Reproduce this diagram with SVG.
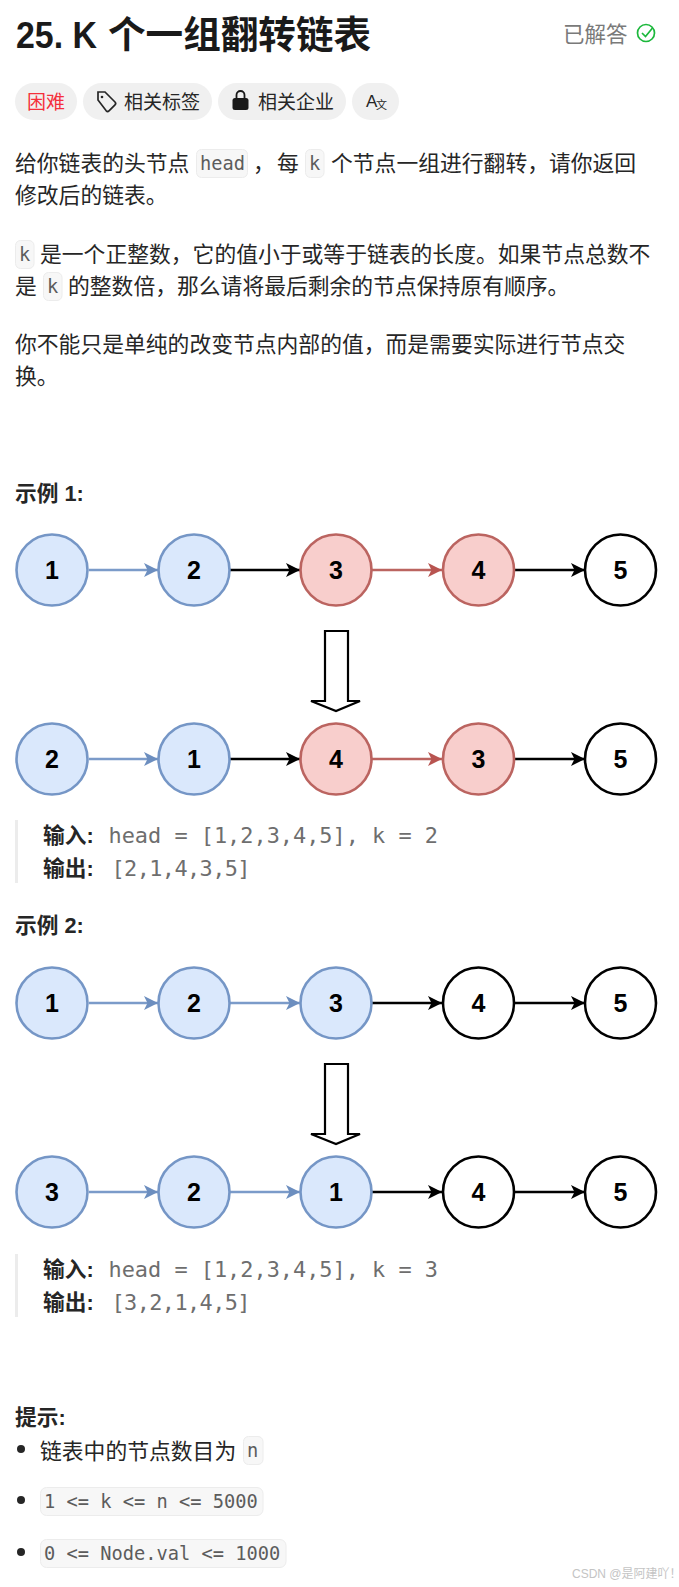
<svg xmlns="http://www.w3.org/2000/svg" width="679" height="1587" viewBox="0 0 679 1587">
<style>
text{font-family:"Liberation Sans","Noto Sans CJK SC",sans-serif;fill:#262626}
.b{font-size:21.8px}
.h{font-size:21.7px;font-weight:700}
.t{font-size:19px}
.m{font-family:"DejaVu Sans Mono",monospace;fill:#5c5c5c;font-size:18.7px}
.mq{font-family:"DejaVu Sans Mono",monospace;fill:#6e6e6e;font-size:21.9px}
.cbox{fill:#f7f7f7;stroke:#ececec;stroke-width:1}
.pill{fill:#f0f0f0}
.n{font-family:"Liberation Sans",sans-serif;font-size:25px;font-weight:700;fill:#000;text-anchor:middle}
.blue{fill:#dae8fc;stroke:#7596c6;stroke-width:2.6}
.red{fill:#f8cecc;stroke:#bb6460;stroke-width:2.6}
.wh{fill:#fff;stroke:#000;stroke-width:2.6}
.lb{stroke:#7b9bc9;stroke-width:2.4;fill:none;marker-end:url(#ab)}
.lr{stroke:#bb6460;stroke-width:2.4;fill:none;marker-end:url(#ar)}
.lk{stroke:#000;stroke-width:2.4;fill:none;marker-end:url(#ak)}
.big{fill:#fff;stroke:#000;stroke-width:2.2}
.q{fill:#ececec}
</style>
<defs>
<marker id="ab" markerUnits="userSpaceOnUse" markerWidth="16" markerHeight="14" refX="14" refY="7" orient="auto"><path d="M0 0L14 7L0 14L3.500 7Z" fill="#6c8ebf"/></marker>
<marker id="ar" markerUnits="userSpaceOnUse" markerWidth="16" markerHeight="14" refX="14" refY="7" orient="auto"><path d="M0 0L14 7L0 14L3.500 7Z" fill="#b85450"/></marker>
<marker id="ak" markerUnits="userSpaceOnUse" markerWidth="16" markerHeight="14" refX="14" refY="7" orient="auto"><path d="M0 0L14 7L0 14L3.500 7Z" fill="#000"/></marker>
</defs>
<rect width="679" height="1587" fill="#fff"/>
<g id="header">
<text x="16" y="48" style="font-size:37px;font-weight:700;fill:#1a1a1a" textLength="81" lengthAdjust="spacingAndGlyphs">25. K</text>
<text x="108" y="48" style="font-size:37.6px;font-weight:700;fill:#1a1a1a">个一组翻转链表</text>
<text x="563" y="42" style="font-size:21.5px;fill:#7a7a7a">已解答</text>
<circle cx="646" cy="33" r="8.500" fill="none" stroke="#1cb83c" stroke-width="1.700"/>
<path d="M642 33l3.500 3.500l7-8.500" fill="none" stroke="#1cb83c" stroke-width="1.700"/>
</g>
<g id="tags">
<rect class="pill" x="15" y="83" width="62" height="37" rx="18.500"/>
<text class="t" x="27" y="109" style="fill:#f5303c">困难</text>
<rect class="pill" x="83" y="83" width="129" height="37" rx="18.500"/>
<path d="M98 92h7l10 10a2 2 0 0 1 0 2.800l-6 6a2 2 0 0 1-2.800 0l-8.200-10.800z" fill="none" stroke="#262626" stroke-width="1.700"/>
<circle cx="102" cy="97" r="1.300" fill="#262626"/>
<text class="t" x="124" y="109">相关标签</text>
<rect class="pill" x="218" y="83" width="128" height="37" rx="18.500"/>
<path d="M236.500 99v-4a4 4 0 0 1 8 0v4" fill="none" stroke="#1a1a1a" stroke-width="1.800"/>
<rect x="232.500" y="98" width="16" height="12" rx="2.500" fill="#1a1a1a"/>
<text class="t" x="258" y="109">相关企业</text>
<rect class="pill" x="352" y="83" width="47" height="37" rx="18.500"/>
<text x="366" y="107" style="font-size:17px">A</text>
<text x="376" y="109" style="font-size:11px">文</text>
</g>
<g id="desc">
<text class="b" x="15" y="171">给你链表的头节点</text>
<rect class="cbox" x="196.500" y="149.500" width="51" height="28" rx="5"/>
<text class="m" x="200" y="169.500">head</text>
<text class="b" x="253" y="171">，</text>
<text class="b" x="277" y="171">每</text>
<rect class="cbox" x="305.500" y="149.500" width="18.500" height="28" rx="5"/>
<text class="m" x="309" y="169.500">k</text>
<text class="b" x="331" y="171">个节点一组进行翻转，请你返回</text>
<text class="b" x="15" y="203">修改后的链表。</text>
<rect class="cbox" x="15.500" y="240.500" width="18.500" height="28" rx="5"/>
<text class="m" x="19" y="260.500">k</text>
<text class="b" x="40" y="262">是一个正整数，它的值小于或等于链表的长度。如果节点总数不</text>
<text class="b" x="15" y="294">是</text>
<rect class="cbox" x="43.500" y="272.500" width="18.500" height="28" rx="5"/>
<text class="m" x="47" y="292.500">k</text>
<text class="b" x="68" y="294">的整数倍，那么请将最后剩余的节点保持原有顺序。</text>
<text class="b" x="15" y="352">你不能只是单纯的改变节点内部的值，而是需要实际进行节点交</text>
<text class="b" x="15" y="384">换。</text>
</g>
<text id="ex1" class="h" x="15" y="501">示例 1:</text>
<g id="connectors">
<path class="lb" d="M89 570H158"/><path class="lk" d="M230 570H300"/><path class="lr" d="M372 570H442"/><path class="lk" d="M514 570H585"/>
<path class="lb" d="M89 759H158"/><path class="lk" d="M230 759H300"/><path class="lr" d="M372 759H442"/><path class="lk" d="M514 759H585"/>
<path class="lb" d="M89 1003H158"/><path class="lb" d="M230 1003H300"/><path class="lk" d="M372 1003H442"/><path class="lk" d="M514 1003H585"/>
<path class="lb" d="M89 1192H158"/><path class="lb" d="M230 1192H300"/><path class="lk" d="M372 1192H442"/><path class="lk" d="M514 1192H585"/>
<path id="down1" class="big" d="M325 631H348V701H360L336 711L311 701H325Z"/>
<path id="down2" class="big" d="M325 1064H348V1134H360L336 1144L311 1134H325Z"/>
</g>
<g id="a1"><circle class="blue" cx="52" cy="570" r="35.500"/><text class="n" x="52" y="579">1</text></g>
<g id="a2"><circle class="blue" cx="194" cy="570" r="35.500"/><text class="n" x="194" y="579">2</text></g>
<g id="a3"><circle class="red" cx="336" cy="570" r="35.500"/><text class="n" x="336" y="579">3</text></g>
<g id="a4"><circle class="red" cx="478.500" cy="570" r="35.500"/><text class="n" x="478.500" y="579">4</text></g>
<g id="a5"><circle class="wh" cx="620.500" cy="570" r="35.500"/><text class="n" x="620.500" y="579">5</text></g>
<g id="b1"><circle class="blue" cx="52" cy="759" r="35.500"/><text class="n" x="52" y="768">2</text></g>
<g id="b2"><circle class="blue" cx="194" cy="759" r="35.500"/><text class="n" x="194" y="768">1</text></g>
<g id="b3"><circle class="red" cx="336" cy="759" r="35.500"/><text class="n" x="336" y="768">4</text></g>
<g id="b4"><circle class="red" cx="478.500" cy="759" r="35.500"/><text class="n" x="478.500" y="768">3</text></g>
<g id="b5"><circle class="wh" cx="620.500" cy="759" r="35.500"/><text class="n" x="620.500" y="768">5</text></g>
<g id="out1">
<rect class="q" x="15" y="820" width="3" height="63"/>
<text class="h" x="43" y="843">输入:</text><text class="mq" x="108.500" y="843">head = [1,2,3,4,5], k = 2</text>
<text class="h" x="43" y="876">输出:</text><text class="mq" x="111.500" y="876" textLength="139">[2,1,4,3,5]</text>
</g>
<text id="ex2" class="h" x="15" y="933">示例 2:</text>
<g id="c1"><circle class="blue" cx="52" cy="1003" r="35.500"/><text class="n" x="52" y="1012">1</text></g>
<g id="c2"><circle class="blue" cx="194" cy="1003" r="35.500"/><text class="n" x="194" y="1012">2</text></g>
<g id="c3"><circle class="blue" cx="336" cy="1003" r="35.500"/><text class="n" x="336" y="1012">3</text></g>
<g id="c4"><circle class="wh" cx="478.500" cy="1003" r="35.500"/><text class="n" x="478.500" y="1012">4</text></g>
<g id="c5"><circle class="wh" cx="620.500" cy="1003" r="35.500"/><text class="n" x="620.500" y="1012">5</text></g>
<g id="d1"><circle class="blue" cx="52" cy="1192" r="35.500"/><text class="n" x="52" y="1201">3</text></g>
<g id="d2"><circle class="blue" cx="194" cy="1192" r="35.500"/><text class="n" x="194" y="1201">2</text></g>
<g id="d3"><circle class="blue" cx="336" cy="1192" r="35.500"/><text class="n" x="336" y="1201">1</text></g>
<g id="d4"><circle class="wh" cx="478.500" cy="1192" r="35.500"/><text class="n" x="478.500" y="1201">4</text></g>
<g id="d5"><circle class="wh" cx="620.500" cy="1192" r="35.500"/><text class="n" x="620.500" y="1201">5</text></g>
<g id="out2">
<rect class="q" x="15" y="1254" width="3" height="63"/>
<text class="h" x="43" y="1277">输入:</text><text class="mq" x="108.500" y="1277">head = [1,2,3,4,5], k = 3</text>
<text class="h" x="43" y="1310">输出:</text><text class="mq" x="111.500" y="1310" textLength="139">[3,2,1,4,5]</text>
</g>
<g id="hints">
<text class="h" x="15" y="1425">提示:</text>
<circle cx="21" cy="1449" r="4" fill="#262626"/>
<text class="b" x="40" y="1459">链表中的节点数目为</text>
<rect class="cbox" x="243.500" y="1436.500" width="19.500" height="28" rx="5"/>
<text class="m" x="247" y="1457">n</text>
<circle cx="21" cy="1500" r="4" fill="#262626"/>
<rect class="cbox" x="40.500" y="1487.500" width="222.500" height="28" rx="6"/>
<text class="m" x="44" y="1508">1 &lt;= k &lt;= n &lt;= 5000</text>
<circle cx="21" cy="1552" r="4" fill="#262626"/>
<rect class="cbox" x="40.500" y="1539.500" width="245.500" height="28" rx="6"/>
<text class="m" x="44" y="1560">0 &lt;= Node.val &lt;= 1000</text>
</g>
<text id="wm" x="572" y="1578" style="font-size:12px;fill:#c4c4c4">CSDN @是阿建吖！</text>
</svg>
